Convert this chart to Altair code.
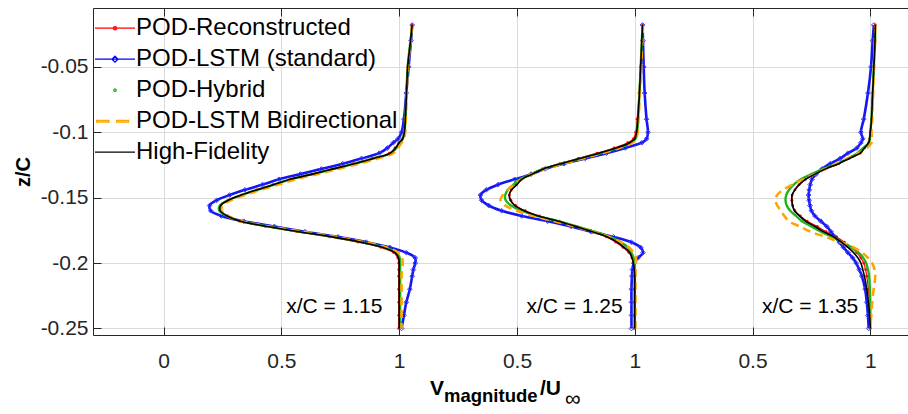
import altair as alt
import pandas as pd

FONT = "Liberation Sans"
AX = "#262626"
GRID = "#dadada"

# ---------------- data ----------------
series_names = ["POD-Reconstructed", "POD-LSTM (standard)", "POD-Hybrid",
                "POD-LSTM Bidirectional", "High-Fidelity"]
series_colors = ["#ff0000", "#0000ff", "#1fb31f", "#ffa500", "#000000"]
legend_paths = [
    "M-1,0H1M0.08,0A0.08,0.08,0,1,1,-0.08,0A0.08,0.08,0,1,1,0.08,0",
    "M-1,0H1M0,-0.15L0.15,0L0,0.15L-0.15,0Z",
    "M0.06,0A0.06,0.06,0,1,1,-0.06,0A0.06,0.06,0,1,1,0.06,0",
    "M-0.92,-0.04H-0.3V0.04H-0.92ZM0.08,-0.04H0.68V0.04H0.08Z",
    "M-1,0H1",
]

station_labels = ["x/C = 1.15", "x/C = 1.25", "x/C = 1.35"]
station_offsets = [0.0, 1.0, 2.0]
label_x = [0.52, 1.54, 2.54]
label_z = [-0.238, -0.238, -0.238]

x_tick_values = [0, 0.5, 1, 1.5, 2, 2.5, 3]
x_tick_labels = ["0", "0.5", "1", "0.5", "1", "0.5", "1"]
y_tick_values = [-0.25, -0.2, -0.15, -0.1, -0.05]

z_levels = [-0.018, -0.03, -0.05, -0.07, -0.09, -0.1, -0.105, -0.108, -0.112, -0.116,
            -0.120, -0.124, -0.128, -0.132, -0.136, -0.140, -0.144, -0.148, -0.152, -0.156,
            -0.160, -0.164, -0.168, -0.172, -0.176, -0.180, -0.184, -0.188, -0.192, -0.196,
            -0.200, -0.205, -0.210, -0.220, -0.230, -0.240, -0.250]

# station x/C = 1.15
red_1 = [1.055, 1.048, 1.036, 1.031, 1.026, 1.020, 1.012, 0.998, 0.982, 0.958, 0.885, 0.805, 0.715,
         0.628, 0.535, 0.465, 0.395, 0.330, 0.275, 0.243, 0.242, 0.272, 0.322, 0.432, 0.565, 0.705,
         0.826, 0.922, 0.976, 0.994, 0.998, 0.998, 0.998, 0.998, 0.998, 0.998, 0.998]
blue_1 = [1.055, 1.050, 1.040, 1.030, 1.020, 1.010, 0.995, 0.975, 0.950, 0.915, 0.840, 0.760, 0.670,
          0.580, 0.490, 0.420, 0.345, 0.280, 0.225, 0.195, 0.200, 0.245, 0.340, 0.470, 0.600, 0.740,
          0.860, 0.960, 1.030, 1.068, 1.068, 1.060, 1.055, 1.045, 1.030, 1.020, 1.010]
green_1 = [1.055, 1.048, 1.036, 1.031, 1.026, 1.022, 1.015, 1.002, 0.988, 0.965, 0.893, 0.812, 0.722,
           0.634, 0.540, 0.470, 0.398, 0.330, 0.272, 0.238, 0.236, 0.268, 0.326, 0.442, 0.576, 0.718,
           0.840, 0.935, 0.988, 1.002, 1.004, 1.004, 1.004, 1.004, 1.004, 1.004, 1.004]
orange_1 = [1.055, 1.048, 1.037, 1.032, 1.028, 1.025, 1.020, 1.010, 0.995, 0.975, 0.910, 0.830, 0.740,
            0.652, 0.558, 0.486, 0.412, 0.343, 0.285, 0.250, 0.245, 0.272, 0.330, 0.450, 0.590, 0.730,
            0.850, 0.945, 0.995, 1.012, 1.015, 1.012, 1.010, 1.010, 1.010, 1.010, 1.010]
hf_1 = [1.055, 1.048, 1.036, 1.031, 1.026, 1.022, 1.015, 1.000, 0.985, 0.962, 0.890, 0.810, 0.720,
        0.632, 0.538, 0.468, 0.397, 0.330, 0.275, 0.242, 0.240, 0.270, 0.326, 0.440, 0.574, 0.715,
        0.835, 0.930, 0.982, 0.997, 1.000, 1.000, 1.000, 1.000, 1.000, 1.000, 1.000]

# station x/C = 1.25
red_2 = [1.033, 1.030, 1.024, 1.018, 1.010, 1.004, 0.994, 0.970, 0.912, 0.840, 0.760, 0.682, 0.608,
         0.560, 0.518, 0.498, 0.476, 0.468, 0.474, 0.494, 0.535, 0.595, 0.680, 0.752, 0.820, 0.880,
         0.920, 0.950, 0.975, 0.988, 0.995, 0.998, 0.998, 0.998, 0.998, 0.998, 0.998]
blue_2 = [1.033, 1.035, 1.038, 1.042, 1.050, 1.056, 1.050, 1.030, 0.960, 0.880, 0.790, 0.700, 0.620,
          0.560, 0.490, 0.420, 0.370, 0.345, 0.350, 0.380, 0.435, 0.520, 0.630, 0.730, 0.815, 0.910,
          0.985, 1.025, 1.035, 1.014, 0.996, 0.990, 0.988, 0.986, 0.986, 0.986, 0.986]
green_2 = [1.033, 1.030, 1.025, 1.020, 1.014, 1.010, 1.003, 0.985, 0.930, 0.855, 0.772, 0.690, 0.612,
           0.560, 0.512, 0.485, 0.462, 0.450, 0.452, 0.475, 0.520, 0.585, 0.675, 0.755, 0.830, 0.895,
           0.940, 0.970, 0.985, 0.995, 1.000, 1.000, 1.000, 1.000, 1.000, 1.000, 1.000]
orange_2 = [1.035, 1.032, 1.027, 1.022, 1.016, 1.012, 1.006, 0.990, 0.935, 0.860, 0.780, 0.698, 0.620,
            0.565, 0.520, 0.490, 0.460, 0.440, 0.430, 0.450, 0.500, 0.570, 0.660, 0.745, 0.820, 0.890,
            0.940, 0.975, 0.995, 1.005, 1.005, 1.004, 1.003, 1.003, 1.003, 1.003, 1.003]
hf_2 = [1.033, 1.030, 1.025, 1.020, 1.013, 1.008, 1.000, 0.979, 0.922, 0.848, 0.767, 0.687, 0.612,
        0.565, 0.520, 0.500, 0.477, 0.467, 0.472, 0.490, 0.530, 0.590, 0.676, 0.750, 0.820, 0.884,
        0.925, 0.955, 0.979, 0.988, 0.994, 0.998, 1.000, 1.000, 1.000, 1.000, 1.000]

# station x/C = 1.35
red_3 = [1.021, 1.020, 1.015, 1.010, 1.005, 1.000, 0.997, 0.993, 0.975, 0.957, 0.910, 0.866, 0.810,
         0.765, 0.725, 0.698, 0.680, 0.668, 0.667, 0.670, 0.680, 0.703, 0.732, 0.775, 0.812, 0.857,
         0.890, 0.918, 0.942, 0.960, 0.972, 0.980, 0.985, 0.992, 0.997, 1.000, 1.000]
blue_3 = [1.015, 1.010, 1.003, 0.990, 0.972, 0.960, 0.968, 0.960, 0.943, 0.905, 0.872, 0.830, 0.795,
          0.770, 0.752, 0.745, 0.741, 0.738, 0.740, 0.744, 0.750, 0.765, 0.790, 0.815, 0.833, 0.850,
          0.868, 0.886, 0.905, 0.925, 0.940, 0.953, 0.964, 0.978, 0.985, 0.990, 0.993]
green_3 = [1.021, 1.020, 1.015, 1.010, 1.005, 1.000, 0.998, 0.995, 0.970, 0.945, 0.905, 0.860, 0.800,
           0.750, 0.705, 0.675, 0.655, 0.643, 0.640, 0.645, 0.660, 0.685, 0.710, 0.750, 0.790, 0.840,
           0.880, 0.920, 0.950, 0.970, 0.982, 0.990, 0.995, 0.998, 1.000, 1.000, 1.000]
orange_3 = [1.021, 1.020, 1.016, 1.012, 1.008, 1.005, 1.007, 1.005, 0.985, 0.950, 0.905, 0.860, 0.810,
            0.765, 0.715, 0.670, 0.630, 0.605, 0.597, 0.605, 0.620, 0.635, 0.655, 0.700, 0.745, 0.810,
            0.870, 0.929, 0.965, 0.990, 1.008, 1.018, 1.021, 1.014, 1.008, 1.004, 1.000]
hf_3 = [1.021, 1.020, 1.015, 1.010, 1.005, 1.000, 0.997, 0.993, 0.975, 0.957, 0.910, 0.866, 0.810,
        0.765, 0.725, 0.698, 0.680, 0.668, 0.667, 0.670, 0.678, 0.700, 0.725, 0.765, 0.801, 0.845,
        0.877, 0.905, 0.929, 0.947, 0.960, 0.968, 0.975, 0.985, 0.992, 0.997, 1.000]

profiles = {
    series_names[0]: [red_1, red_2, red_3],
    series_names[1]: [blue_1, blue_2, blue_3],
    series_names[2]: [green_1, green_2, green_3],
    series_names[3]: [orange_1, orange_2, orange_3],
    series_names[4]: [hf_1, hf_2, hf_3],
}

rows = []
for name in series_names:
    for k, vals in enumerate(profiles[name]):
        for i, (z, v) in enumerate(zip(z_levels, vals)):
            rows.append({"series": name, "station": k, "idx": i, "z": z, "V": v,
                         "xu": v + station_offsets[k]})
df = pd.DataFrame(rows)

ann_df = pd.DataFrame({"label": station_labels, "xu": label_x, "z": label_z})

# ---------------- scales & axes ----------------
W, H = 815, 327
xscale = alt.Scale(domain=[-0.3, 3.16], nice=False, zero=False)
yscale = alt.Scale(domain=[-0.255, -0.005], nice=False, zero=False)

x_label_expr = "[" + ",".join("'%s'" % s for s in x_tick_labels) + "][round(datum.value*2)]"

x_main = alt.Axis(orient="bottom", values=x_tick_values, labelExpr=x_label_expr, title=None,
                  grid=True, gridColor=GRID, gridWidth=1, domain=True, domainColor=AX, domainWidth=1,
                  ticks=False, labels=True, labelFont=FONT, labelFontSize=21, labelColor=AX,
                  labelPadding=15, labelFlush=False)
y_main = alt.Axis(orient="left", values=y_tick_values, labelExpr="'' + datum.value",
                  title="z/C", titleFont=FONT, titleFontSize=20, titleFontWeight="bold",
                  titleColor="black", titleX=-70, titleY=H / 2, titleAlign="center",
                  titleBaseline="middle",
                  grid=True, gridColor=GRID, gridWidth=1, domain=True, domainColor=AX, domainWidth=1,
                  ticks=False, labels=True, labelFont=FONT, labelFontSize=21, labelColor=AX,
                  labelPadding=5)
x_ticks_bottom = alt.Axis(orient="bottom", offset=-8, values=x_tick_values, title=None, grid=False,
                          domain=False, labels=False, ticks=True, tickSize=8, tickColor=AX, tickWidth=1)
y_ticks_left = alt.Axis(orient="left", offset=-8, values=y_tick_values, title=None, grid=False,
                        domain=False, labels=False, ticks=True, tickSize=8, tickColor=AX, tickWidth=1)
x_top_domain = alt.Axis(orient="top", values=x_tick_values, title=None, grid=False, domain=True,
                        domainColor=AX, domainWidth=1, labels=False, ticks=False)
x_ticks_top = alt.Axis(orient="top", offset=-8, values=x_tick_values, title=None, grid=False,
                       domain=False, labels=False, ticks=True, tickSize=8, tickColor=AX, tickWidth=1)


def enc_xy(xaxis=None, yaxis=None):
    return dict(
        x=alt.X("xu:Q", scale=xscale, axis=xaxis),
        y=alt.Y("z:Q", scale=yscale, axis=yaxis),
    )


def series_chart(i):
    return alt.Chart(df).transform_filter(alt.datum.series == series_names[i])


red_line = series_chart(0).mark_line(color=series_colors[0], strokeWidth=1.2, interpolate="catmull-rom").encode(
    detail="station:N", order="idx:Q", **enc_xy(x_main, y_main))
red_pts = series_chart(0).mark_point(shape="circle", filled=True, size=8, color=series_colors[0], opacity=1).encode(
    **enc_xy(x_top_domain, None))
blue_line = series_chart(1).mark_line(color="#1515f5", strokeWidth=2.6, interpolate="catmull-rom").encode(
    detail="station:N", order="idx:Q", **enc_xy(x_ticks_bottom, y_ticks_left))
blue_pts = series_chart(1).mark_point(shape="diamond", filled=False, size=22, strokeWidth=1,
                                      color="#3a3aff", opacity=1).encode(**enc_xy(x_ticks_top, None))
green_line = series_chart(2).mark_line(color=series_colors[2], strokeWidth=2.4, interpolate="catmull-rom").encode(
    detail="station:N", order="idx:Q", **enc_xy())
orange_line = series_chart(3).mark_line(color=series_colors[3], strokeWidth=2.6, strokeDash=[8, 5],
                                        interpolate="catmull-rom").encode(
    detail="station:N", order="idx:Q", **enc_xy())
black_line = series_chart(4).mark_line(color=series_colors[4], strokeWidth=1.6, interpolate="catmull-rom").encode(
    detail="station:N", order="idx:Q", **enc_xy())

annotations = alt.Chart(ann_df).mark_text(font=FONT, fontSize=21, color="black", align="left",
                                          baseline="alphabetic").encode(
    text="label:N", **enc_xy())

leg = alt.Legend(title=None, orient="none", legendX=1, legendY=5, padding=0,
                 symbolSize=1600, symbolStrokeWidth=1.3, labelFont=FONT, labelFontSize=24,
                 labelColor="black", labelOffset=0, labelLimit=500, rowPadding=0, symbolOffset=0,
                 clipHeight=30.4)
legend_df = pd.DataFrame({"series": series_names, "xu": [0.0] * 5, "z": [-0.1] * 5})
legend_layer = alt.Chart(legend_df).transform_filter("false").mark_point(
    filled=False, opacity=1, strokeWidth=1.3).encode(
    color=alt.Color("series:N", scale=alt.Scale(domain=series_names, range=series_colors), legend=leg),
    shape=alt.Shape("series:N", scale=alt.Scale(domain=series_names, range=legend_paths), legend=leg),
    **enc_xy())

# x-axis title pieces (V_magnitude / U_inf)
title_parts = ["V", "magnitude", "/U", "\u221e"]
tdf = pd.DataFrame({"a": [0]})
title_specs = [
    (title_parts[0], 337, 387, 21, "bold"),
    (title_parts[1], 351, 394, 18.5, "bold"),
    (title_parts[2], 447, 387, 21, "bold"),
    (title_parts[3], 472, 398, 22, "normal"),
]
title_layers = [
    alt.Chart(tdf).mark_text(text=t, font=FONT, fontSize=fs, fontWeight=fw, color="black",
                             align="left", baseline="alphabetic").encode(x=alt.value(px), y=alt.value(py))
    for (t, px, py, fs, fw) in title_specs
]

chart = alt.layer(
    red_line, red_pts, blue_line, blue_pts, green_line, orange_line, black_line,
    annotations, legend_layer, *title_layers
).resolve_axis(x="independent", y="independent").properties(
    width=W, height=H,
    autosize=alt.AutoSizeParams(type="none"),
    padding={"left": 93, "top": 8, "right": 0, "bottom": 79},
).configure_view(strokeWidth=0)

chart.save("out.html", embed_options={"renderer": "svg", "actions": False})
